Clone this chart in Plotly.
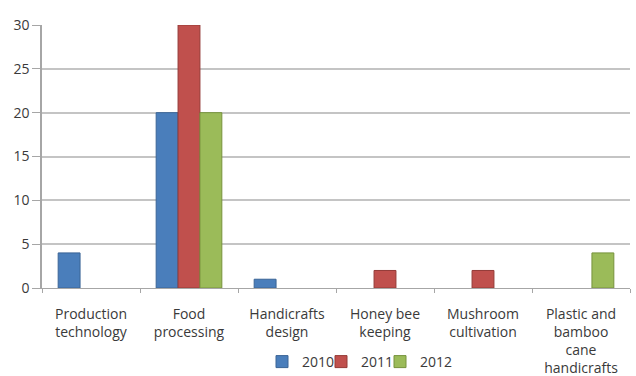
import plotly.graph_objects as go

categories = ["Production<br>technology", "Food<br>processing", "Handicrafts<br>design",
              "Honey bee<br>keeping", "Mushroom<br>cultivation",
              "Plastic and<br>bamboo<br>cane<br>handicrafts"]
series_names = ["2010", "2011", "2012"]
values_2010 = [4, 20, 1, None, None, None]
values_2011 = [None, 30, None, 2, 2, None]
values_2012 = [None, 20, None, None, None, 4]
colors = ["#4A7EBB", "#C0504D", "#9BBB59"]
outlines = ["#3A6496", "#943A37", "#76923C"]
y_ticks = [0, 5, 10, 15, 20, 25, 30]

PLOT_L, PLOT_R, PLOT_T, PLOT_B = 42, 630, 25, 288
W, H = 636, 376

def px_to_paper_x(px):
    return (px - PLOT_L) / (PLOT_R - PLOT_L)

def px_to_paper_y(py):
    return (PLOT_B - py) / (PLOT_B - PLOT_T)

legend_ids = ["legend", "legend2", "legend3"]
legend_left_px = [262, 321, 380]

fig = go.Figure()
for name, vals, c, o, lid in zip(series_names, [values_2010, values_2011, values_2012],
                                 colors, outlines, legend_ids):
    fig.add_trace(go.Bar(
        x=categories, y=vals, name=name, legend=lid,
        marker=dict(color=c, line=dict(color=o, width=1)),
    ))

legend_common = dict(orientation="h", xanchor="left", yanchor="middle",
                     y=px_to_paper_y(362), font=dict(size=14, color="#3A3A3A"),
                     bgcolor="rgba(0,0,0,0)", borderwidth=0)

fig.update_layout(
    width=W, height=H,
    margin=dict(l=PLOT_L, r=W - PLOT_R, t=PLOT_T, b=H - PLOT_B, autoexpand=False),
    paper_bgcolor="white", plot_bgcolor="white",
    barmode="group", bargap=0.33, bargroupgap=0,
    font=dict(family="Open Sans, Liberation Sans, Arial, sans-serif", size=14, color="#3A3A3A"),
    showlegend=True,
    legend=dict(x=px_to_paper_x(legend_left_px[0]), **legend_common),
    legend2=dict(x=px_to_paper_x(legend_left_px[1]), **legend_common),
    legend3=dict(x=px_to_paper_x(legend_left_px[2]), **legend_common),
    xaxis=dict(
        showgrid=False, showline=True, linecolor="#A6A6A6", linewidth=1,
        ticks="outside", tickson="boundaries", ticklen=4, tickcolor="#A6A6A6",
        automargin=False, tickangle=0, tickfont=dict(size=14), ticklabelstandoff=13,
    ),
    yaxis=dict(
        range=[0, 30], tickvals=y_ticks, showgrid=True, gridcolor="#C4C4C4", gridwidth=1.5,
        showline=True, linecolor="#A6A6A6", linewidth=1.5,
        ticks="outside", ticklen=8, tickcolor="#A6A6A6", automargin=False,
        zeroline=False, tickfont=dict(size=14),
    ),
)

fig.write_html("out.html")
